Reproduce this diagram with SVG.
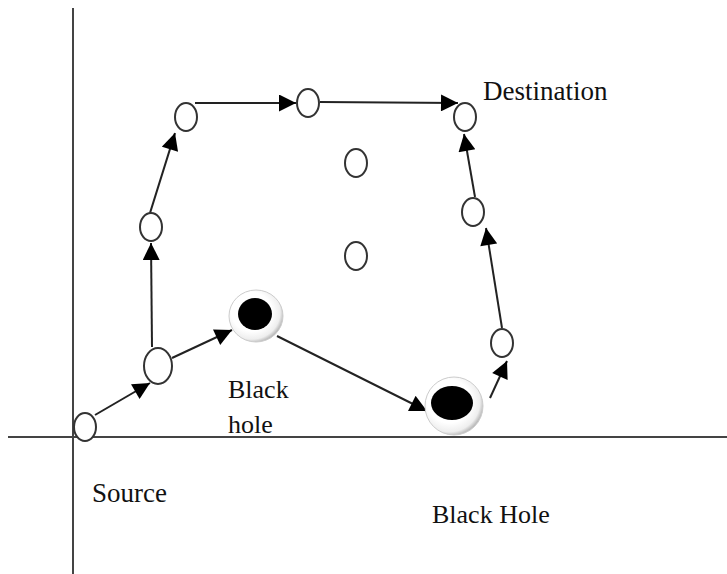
<svg xmlns="http://www.w3.org/2000/svg" width="727" height="574" viewBox="0 0 727 574">
<style>
.axis{stroke:#444;stroke-width:2;fill:none}
.edge{stroke:#222;stroke-width:2;fill:none;marker-end:url(#ah)}
.node{fill:#fff;stroke:#333;stroke-width:2}
.bh{fill:#000}
.halo{fill:url(#hg);stroke:#ccc;stroke-width:1}
.lbl{font-family:"Liberation Serif","Times New Roman",serif;font-size:26px;fill:#111}
</style>
<defs>
<marker id="ah" viewBox="0 0 10 10" refX="10" refY="5" markerWidth="20" markerHeight="17" markerUnits="userSpaceOnUse" orient="auto">
<path d="M0,0 L10,5 L0,10 Z" fill="#000"/>
</marker>
<radialGradient id="hg" cx="0.42" cy="0.42" r="0.62">
<stop offset="0.6" stop-color="#fff"/>
<stop offset="0.85" stop-color="#eee"/>
<stop offset="1" stop-color="#aaa"/>
</radialGradient>
</defs>
<g id="axes">
<line class="axis" x1="73" y1="8" x2="73" y2="574"/>
<line class="axis" x1="8" y1="437" x2="727" y2="437"/>
</g>
<g id="connectors">
<line class="edge" x1="95" y1="415" x2="150" y2="383"/>
<line class="edge" x1="172" y1="358" x2="232" y2="330"/>
<line class="edge" x1="152" y1="347" x2="151" y2="243"/>
<line class="edge" x1="150" y1="213" x2="175" y2="133"/>
<line class="edge" x1="195" y1="103" x2="296" y2="103"/>
<line class="edge" x1="320" y1="102" x2="458" y2="103"/>
<line class="edge" x1="277" y1="336" x2="427" y2="411"/>
<line class="edge" x1="490" y1="398" x2="507" y2="361"/>
<line class="edge" x1="502" y1="328" x2="486" y2="228"/>
<line class="edge" x1="475" y1="197" x2="464" y2="134"/>
</g>
<g id="source"><ellipse class="node" cx="85" cy="427" rx="11" ry="14"/></g>
<g id="n2"><ellipse class="node" cx="158" cy="366" rx="14" ry="18"/></g>
<g id="n3"><ellipse class="node" cx="151" cy="227" rx="11" ry="14"/></g>
<g id="n4"><ellipse class="node" cx="186" cy="117" rx="11" ry="14"/></g>
<g id="n5"><ellipse class="node" cx="308" cy="103" rx="11" ry="14"/></g>
<g id="destination"><ellipse class="node" cx="465" cy="117" rx="11" ry="14"/></g>
<g id="mid1"><ellipse class="node" cx="356" cy="163" rx="11" ry="14"/></g>
<g id="mid2"><ellipse class="node" cx="356" cy="256" rx="11" ry="14"/></g>
<g id="right-mid"><ellipse class="node" cx="473" cy="212" rx="11" ry="14"/></g>
<g id="right-low"><ellipse class="node" cx="502" cy="343" rx="11" ry="14"/></g>
<g id="blackhole1">
<ellipse class="halo" cx="256" cy="316" rx="27" ry="26"/>
<ellipse class="bh" cx="255" cy="314" rx="17" ry="16"/>
</g>
<g id="blackhole2">
<ellipse class="halo" cx="454" cy="406" rx="29" ry="29"/>
<ellipse class="bh" cx="452" cy="403" rx="21" ry="17"/>
</g>
<g id="labels">
<text class="lbl" x="483" y="100" style="font-size:27px">Destination</text>
<text class="lbl" x="228" y="398">Black</text>
<text class="lbl" x="228" y="433">hole</text>
<text class="lbl" x="92" y="502" style="font-size:27px">Source</text>
<text class="lbl" x="432" y="523">Black Hole</text>
</g>
</svg>
